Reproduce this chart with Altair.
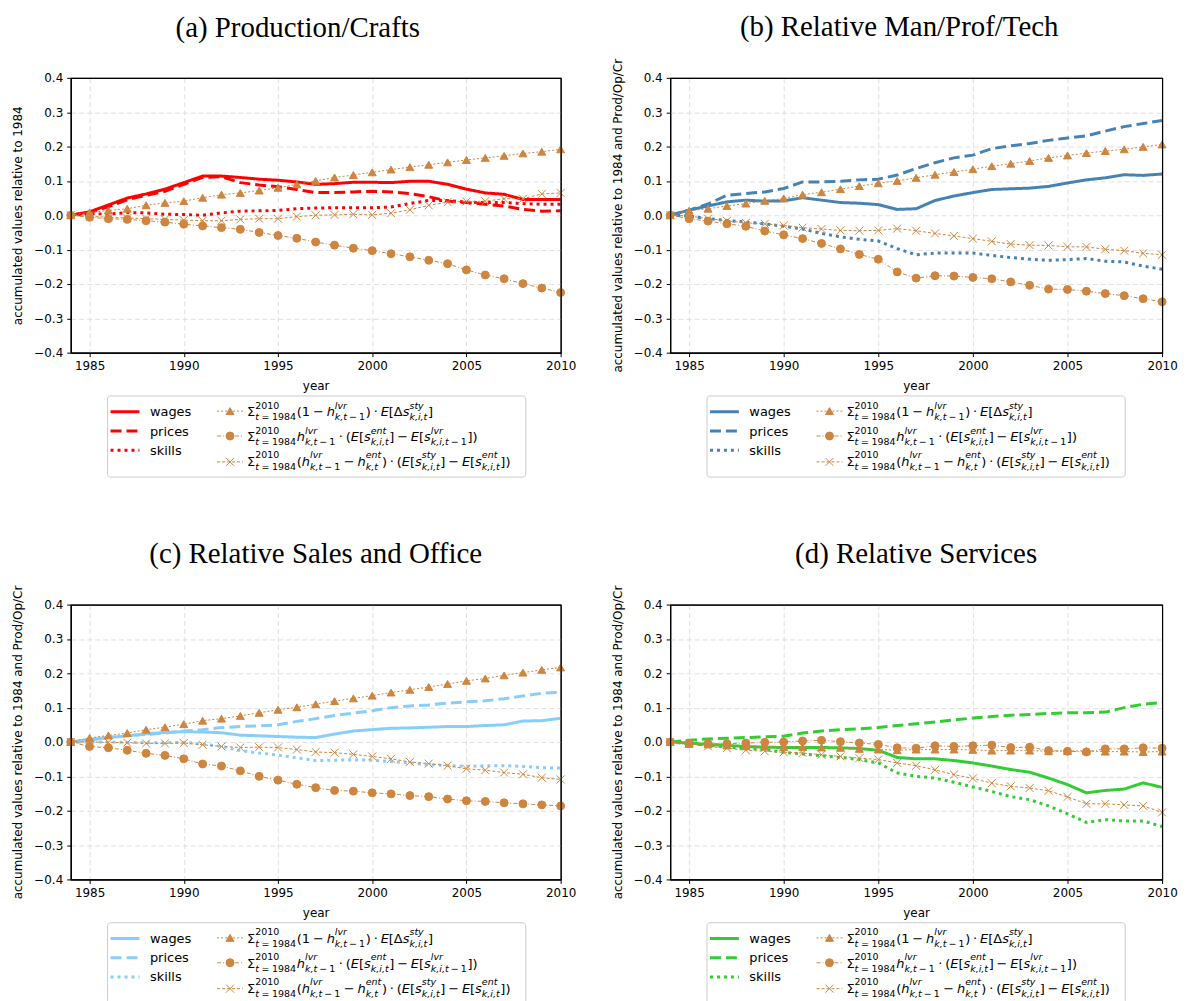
import altair as alt
import pandas as pd

years = list(range(1984, 2011))

# ---------------- panel (a) Production/Crafts ----------------
a_wages = [0, 0.010, 0.030, 0.050, 0.062, 0.076, 0.095, 0.114, 0.114, 0.110, 0.105, 0.102, 0.097, 0.090,
           0.092, 0.096, 0.096, 0.095, 0.099, 0.099, 0.090, 0.076, 0.065, 0.061, 0.046, 0.046, 0.046]
a_prices = [0, 0.008, 0.025, 0.045, 0.058, 0.070, 0.090, 0.110, 0.112, 0.095, 0.088, 0.083, 0.075, 0.066,
            0.066, 0.068, 0.070, 0.068, 0.063, 0.054, 0.041, 0.037, 0.032, 0.027, 0.017, 0.012, 0.013]
a_skills = [0, 0.004, 0.004, 0.007, 0.007, 0.003, 0.002, 0.000, 0.007, 0.012, 0.013, 0.014, 0.019, 0.021,
            0.022, 0.022, 0.022, 0.024, 0.034, 0.043, 0.043, 0.038, 0.037, 0.037, 0.034, 0.032, 0.032]
a_tri = [0, 0.008, 0.014, 0.019, 0.029, 0.036, 0.041, 0.051, 0.060, 0.065, 0.072, 0.080, 0.090, 0.100,
         0.110, 0.117, 0.125, 0.133, 0.140, 0.147, 0.154, 0.161, 0.167, 0.173, 0.180, 0.185, 0.192]
a_circ = [0, -0.006, -0.010, -0.012, -0.016, -0.020, -0.026, -0.031, -0.036, -0.041, -0.050, -0.059, -0.067,
          -0.078, -0.087, -0.096, -0.103, -0.112, -0.121, -0.131, -0.141, -0.159, -0.174, -0.185, -0.199,
          -0.212, -0.225]
a_x = [0, -0.003, -0.006, -0.008, -0.010, -0.012, -0.014, -0.016, -0.016, -0.012, -0.010, -0.010, -0.004,
       0.000, 0.001, 0.003, 0.001, 0.006, 0.016, 0.029, 0.038, 0.040, 0.041, 0.048, 0.048, 0.062, 0.065]

# ---------------- panel (b) Relative Man/Prof/Tech ----------------
b_wages = [0, 0.015, 0.027, 0.039, 0.044, 0.041, 0.042, 0.051, 0.044, 0.037, 0.035, 0.031, 0.017, 0.019,
           0.043, 0.056, 0.066, 0.075, 0.077, 0.079, 0.084, 0.094, 0.103, 0.109, 0.118, 0.116, 0.120]
b_prices = [0, 0.015, 0.033, 0.058, 0.063, 0.068, 0.078, 0.097, 0.097, 0.099, 0.103, 0.105, 0.117, 0.136,
            0.153, 0.167, 0.175, 0.194, 0.202, 0.209, 0.218, 0.225, 0.231, 0.245, 0.258, 0.267, 0.276]
b_skills = [0, -0.002, -0.010, -0.015, -0.020, -0.025, -0.032, -0.040, -0.053, -0.063, -0.070, -0.075,
            -0.097, -0.115, -0.110, -0.110, -0.110, -0.117, -0.123, -0.128, -0.131, -0.129, -0.126, -0.134,
            -0.136, -0.148, -0.157]
b_tri = [0, 0.013, 0.019, 0.027, 0.034, 0.042, 0.049, 0.060, 0.067, 0.076, 0.085, 0.093, 0.100, 0.109,
         0.118, 0.126, 0.134, 0.143, 0.150, 0.158, 0.167, 0.174, 0.181, 0.187, 0.192, 0.199, 0.206]
b_circ = [0, -0.010, -0.017, -0.025, -0.032, -0.046, -0.057, -0.068, -0.082, -0.098, -0.114, -0.128, -0.165,
          -0.183, -0.176, -0.177, -0.181, -0.185, -0.194, -0.204, -0.215, -0.216, -0.221, -0.228, -0.234,
          -0.243, -0.252]
b_x = [0, -0.002, -0.010, -0.016, -0.022, -0.025, -0.030, -0.036, -0.040, -0.044, -0.045, -0.044, -0.039,
       -0.045, -0.053, -0.060, -0.068, -0.076, -0.084, -0.087, -0.088, -0.092, -0.092, -0.099, -0.103,
       -0.111, -0.115]

# ---------------- panel (c) Relative Sales and Office ----------------
c_wages = [0, 0.007, 0.013, 0.018, 0.024, 0.028, 0.030, 0.029, 0.027, 0.020, 0.018, 0.016, 0.014, 0.013,
           0.023, 0.032, 0.036, 0.040, 0.041, 0.043, 0.045, 0.045, 0.048, 0.050, 0.061, 0.062, 0.069]
c_prices = [0, 0.006, 0.013, 0.018, 0.022, 0.026, 0.032, 0.036, 0.042, 0.045, 0.047, 0.050, 0.060, 0.068,
            0.077, 0.084, 0.091, 0.100, 0.105, 0.108, 0.113, 0.117, 0.120, 0.126, 0.134, 0.142, 0.145]
c_skills = [0, 0.000, 0.000, -0.001, -0.002, -0.002, -0.001, -0.006, -0.013, -0.025, -0.032, -0.038, -0.046,
            -0.054, -0.053, -0.052, -0.053, -0.057, -0.061, -0.066, -0.068, -0.071, -0.069, -0.069, -0.071,
            -0.075, -0.076]
c_tri = [0, 0.012, 0.019, 0.026, 0.036, 0.043, 0.052, 0.062, 0.068, 0.076, 0.085, 0.094, 0.101, 0.110,
         0.119, 0.127, 0.135, 0.144, 0.152, 0.160, 0.169, 0.178, 0.185, 0.194, 0.202, 0.210, 0.217]
c_circ = [0, -0.013, -0.017, -0.024, -0.033, -0.039, -0.049, -0.064, -0.070, -0.084, -0.100, -0.111, -0.123,
          -0.133, -0.141, -0.143, -0.148, -0.151, -0.156, -0.159, -0.166, -0.171, -0.173, -0.177, -0.180,
          -0.183, -0.186]
c_x = [0, 0.000, -0.001, -0.002, -0.004, -0.004, -0.003, -0.008, -0.013, -0.016, -0.015, -0.016, -0.022,
       -0.029, -0.031, -0.036, -0.042, -0.049, -0.058, -0.063, -0.069, -0.078, -0.082, -0.089, -0.094,
       -0.104, -0.109]

# ---------------- panel (d) Relative Services ----------------
d_wages = [0, -0.003, -0.007, -0.010, -0.013, -0.015, -0.016, -0.016, -0.016, -0.017, -0.019, -0.024, -0.045,
           -0.049, -0.049, -0.054, -0.061, -0.070, -0.080, -0.088, -0.105, -0.124, -0.148, -0.141, -0.137,
           -0.119, -0.132]
d_prices = [0, 0.005, 0.009, 0.011, 0.013, 0.015, 0.017, 0.026, 0.032, 0.036, 0.038, 0.042, 0.048, 0.053,
            0.058, 0.064, 0.070, 0.074, 0.078, 0.080, 0.083, 0.085, 0.085, 0.087, 0.100, 0.110, 0.115]
d_skills = [0, -0.005, -0.009, -0.015, -0.018, -0.022, -0.030, -0.035, -0.040, -0.045, -0.051, -0.061, -0.090,
            -0.100, -0.105, -0.117, -0.131, -0.144, -0.159, -0.168, -0.186, -0.209, -0.234, -0.226, -0.230,
            -0.230, -0.246]
d_tri = [0, -0.005, -0.007, -0.010, -0.012, -0.013, -0.015, -0.015, -0.016, -0.017, -0.020, -0.022, -0.024,
         -0.022, -0.022, -0.022, -0.023, -0.025, -0.025, -0.025, -0.027, -0.026, -0.026, -0.028, -0.028,
         -0.029, -0.028]
d_circ = [0, -0.005, -0.005, -0.005, -0.003, -0.001, 0.000, 0.003, 0.005, 0.001, -0.003, -0.007, -0.017,
          -0.018, -0.011, -0.013, -0.011, -0.009, -0.016, -0.015, -0.025, -0.027, -0.029, -0.020, -0.020,
          -0.017, -0.018]
d_x = [0, -0.005, -0.013, -0.018, -0.024, -0.027, -0.030, -0.032, -0.037, -0.042, -0.047, -0.051, -0.061,
       -0.069, -0.081, -0.095, -0.106, -0.120, -0.129, -0.134, -0.142, -0.160, -0.180, -0.180, -0.183,
       -0.186, -0.205]

x_ticks = [1985, 1990, 1995, 2000, 2005, 2010]
y_ticks = [round(-0.4 + 0.1 * i, 1) for i in range(9)]
main_names = ["wages", "prices", "skills"]
term_names = ["t1", "t2", "t3"]
PERU = "#cd853f"
FONT = "DejaVu Sans"

dash_scale = alt.Scale(domain=main_names + term_names,
                       range=[[1, 0], [11, 5], [3, 4], [2, 2], [4, 2, 1, 2], [3, 2]])
shape_scale = alt.Scale(domain=term_names,
                        range=["triangle-up", "circle", "M-1,-1L1,1M-1,1L1,-1"])

# ---------- math-ish legend text layout (DejaVu Sans advance widths, em) ----------
CW = {' ': 0.318, '(': 0.390, ')': 0.390, '[': 0.390, ']': 0.390, ',': 0.318, '·': 0.318,
      '=': 0.838, '−': 0.838, 'Σ': 0.632, 'Δ': 0.684, 'E': 0.632, 'h': 0.634, 'k': 0.579,
      't': 0.392, 'i': 0.278, 's': 0.521, 'l': 0.278, 'v': 0.592, 'r': 0.411, 'e': 0.615,
      'n': 0.634, 'y': 0.592}
for dgt in "0123456789":
    CW[dgt] = 0.636


def tw(s, size):
    return sum(CW.get(c, 0.6) for c in s) * size


def layout(tokens, x0, y0, fs=13.0, ss=9.5):
    rows = []

    def run(parts, x, y, size):
        for p in parts:
            text, ital = p[0], p[1]
            gap = 0.0
            if len(p) > 2:
                gap = (0.22 if p[2] == "op" else 0.28) * size
            x += gap
            rows.append(dict(text=text, x=x, y=y, size=size, italic=ital))
            x += tw(text, size) + gap
        return x

    x = x0
    for tok in tokens:
        if tok[0] == "b":
            x = run(tok[1], x, y0, fs)
        else:
            x1 = run(tok[1], x, y0 - 0.6 * fs, ss)
            x2 = run(tok[2], x, y0 + 0.3 * fs, ss)
            x = max(x1, x2) + 0.05 * fs
    return rows


SIG = [("b", [("Σ", False)]), ("s", [("2010", False)], [("t", True), ("=", False, "rel"), ("1984", False)])]
H_LVR = ("s", [("lvr", True)], [("k,t", True), ("−", False, "op"), ("1", False)])
S_KIT = [("k,i,t", True)]
F1 = SIG + [("b", [("(", False), ("1", False), ("−", False, "op"), ("h", True)]), H_LVR,
            ("b", [(")", False), ("·", False, "op"), ("E", True), ("[", False), ("Δ", False), ("s", True)]),
            ("s", [("sty", True)], S_KIT), ("b", [("]", False)])]
F2 = SIG + [("b", [("h", True)]), H_LVR,
            ("b", [("·", False, "op"), ("(", False), ("E", True), ("[", False), ("s", True)]),
            ("s", [("ent", True)], S_KIT),
            ("b", [("]", False), ("−", False, "op"), ("E", True), ("[", False), ("s", True)]),
            ("s", [("lvr", True)], [("k,i,t", True), ("−", False, "op"), ("1", False)]),
            ("b", [("]", False), (")", False)])]
F3 = SIG + [("b", [("(", False), ("h", True)]), H_LVR,
            ("b", [("−", False, "op"), ("h", True)]), ("s", [("ent", True)], [("k,t", True)]),
            ("b", [(")", False), ("·", False, "op"), ("(", False), ("E", True), ("[", False), ("s", True)]),
            ("s", [("sty", True)], S_KIT),
            ("b", [("]", False), ("−", False, "op"), ("E", True), ("[", False), ("s", True)]),
            ("s", [("ent", True)], S_KIT), ("b", [("]", False), (")", False)])]


def make_legend(color, w):
    one = pd.DataFrame({"k": [0]})
    box = alt.Chart(one).mark_rect(fill="white", stroke="#cccccc", strokeWidth=1, cornerRadius=3).encode(
        x=alt.value(37), x2=alt.value(457), y=alt.value(1.5), y2=alt.value(83))
    left = pd.DataFrame({"series": main_names, "y": [17.3, 36.7, 56.0]})
    left["yt"] = left["y"] + 4.5
    lrule = alt.Chart(left).mark_rule(color=color, strokeWidth=3).encode(
        x=alt.value(40), x2=alt.value(69), y=alt.Y("y:Q", scale=None),
        strokeDash=alt.StrokeDash("series:N", scale=dash_scale, legend=None))
    ltext = alt.Chart(left).mark_text(align="left", baseline="alphabetic", font=FONT, fontSize=13,
                                      color="black").encode(
        x=alt.value(79.5), y=alt.Y("yt:Q", scale=None), text="series:N")
    right = pd.DataFrame({"series": term_names, "y": [16.7, 41.7, 67.7]})
    rrule = alt.Chart(right).mark_rule(color=PERU, strokeWidth=1).encode(
        x=alt.value(147), x2=alt.value(173), y=alt.Y("y:Q", scale=None),
        strokeDash=alt.StrokeDash("series:N", scale=dash_scale, legend=None))
    rpt = alt.Chart(right).mark_point(filled=True, color=PERU, stroke=PERU, strokeWidth=1, size=64,
                                      opacity=1).encode(
        x=alt.value(160), y=alt.Y("y:Q", scale=None),
        shape=alt.Shape("series:N", scale=shape_scale, legend=None))
    rows = []
    for f, yb in zip([F1, F2, F3], [22.0, 47.0, 72.0]):
        rows += layout(f, 177.0, yb)
    rt = pd.DataFrame(rows)
    txt_layers = []
    for ital in [False, True]:
        txt_layers.append(
            alt.Chart(rt[rt["italic"] == ital]).mark_text(
                align="left", baseline="alphabetic", font=FONT, color="black",
                fontStyle="italic" if ital else "normal").encode(
                x=alt.X("x:Q", scale=None), y=alt.Y("y:Q", scale=None),
                size=alt.Size("size:Q", scale=None, legend=None), text="text:N"))
    return alt.layer(box, lrule, ltext, rrule, rpt, *txt_layers).properties(
        width=w, height=86, view=alt.ViewBackground(stroke="transparent"))


def make_panel(title, color, w, mains, terms, ytitle, t_offset, t_dx):
    mrows, trows = [], []
    for name, vals in zip(main_names, mains):
        for yr, v in zip(years, vals):
            mrows.append({"year": yr, "value": v, "series": name})
    for name, vals in zip(term_names, terms):
        for yr, v in zip(years, vals):
            trows.append({"year": yr, "value": v, "series": name})
    mdf = pd.DataFrame(mrows)
    tdf = pd.DataFrame(trows)
    x = alt.X("year:Q", scale=alt.Scale(domain=[1984, 2010], nice=False, zero=False),
              axis=alt.Axis(values=x_ticks, format="d", title="year",
                            gridOpacity={"condition": {"test": "datum.value >= 2010", "value": 0},
                                         "value": 1}))
    y = alt.Y("value:Q", scale=alt.Scale(domain=[-0.4, 0.4], nice=False, zero=False),
              axis=alt.Axis(values=y_ticks, format=".1f", title=ytitle,
                            gridOpacity={"condition": {"test": "abs(datum.value) > 0.35", "value": 0},
                                         "value": 1}))
    lines = alt.Chart(mdf).mark_line(color=color, strokeWidth=3).encode(
        x=x, y=y, strokeDash=alt.StrokeDash("series:N", scale=dash_scale, legend=None))
    tlines = alt.Chart(tdf).mark_line(color=PERU, strokeWidth=1).encode(
        x=x, y=y, strokeDash=alt.StrokeDash("series:N", scale=dash_scale, legend=None))
    tpts = alt.Chart(tdf).mark_point(filled=True, color=PERU, stroke=PERU, strokeWidth=1, size=64,
                                     opacity=1).encode(
        x=x, y=y, shape=alt.Shape("series:N", scale=shape_scale, legend=None))
    frame = alt.Chart(pd.DataFrame({"k": [0]})).mark_rect(
        fillOpacity=0, stroke="black", strokeWidth=1.2).encode(
        x=alt.value(0.5), x2=alt.value(w + 0.5), y=alt.value(0.5), y2=alt.value(276.5))
    plot = alt.layer(lines, tlines, tpts, frame).properties(
        width=w, height=276,
        title=alt.TitleParams(title, font="Liberation Serif", fontSize=29, fontWeight="normal",
                              anchor="middle", frame="group", offset=t_offset, dx=t_dx,
                              color="black"))
    return alt.vconcat(plot, make_legend(color, w), spacing=1)


yt1 = "accumulated values relative to 1984"
yt2 = "accumulated values relative to 1984 and Prod/Op/Cr"

pa = make_panel("(a) Production/Crafts", "#ff0000", 492, [a_wages, a_prices, a_skills],
                [a_tri, a_circ, a_x], yt1, 29, -18)
pb = make_panel("(b) Relative Man/Prof/Tech", "#4682b4", 494, [b_wages, b_prices, b_skills],
                [b_tri, b_circ, b_x], yt2, 16, -17)
pc = make_panel("(c) Relative Sales and Office", "#87cefa", 492, [c_wages, c_prices, c_skills],
                [c_tri, c_circ, c_x], yt2, 16, 0)
pd_ = make_panel("(d) Relative Services", "#32cd32", 494, [d_wages, d_prices, d_skills],
                 [d_tri, d_circ, d_x], yt2, 16, 0)

chart = alt.vconcat(
    alt.hconcat(pa, pb, spacing=34),
    alt.hconcat(pc, pd_, spacing=34),
    spacing=58,
).properties(
    padding={"left": 3, "top": 2, "right": 0, "bottom": 0}
).configure_view(
    stroke="black", strokeWidth=1
).configure_axis(
    labelFont=FONT, titleFont=FONT, labelFontSize=12, titleFontSize=12, titleFontWeight="normal",
    labelColor="black", titleColor="black", domainColor="black", tickColor="black",
    tickSize=4, labelPadding=4, grid=True, gridColor="#e0e0e0", gridDash=[5, 3], gridWidth=1,
    labelFlush=False
).configure_axisY(
    titlePadding=9
).configure_axisX(
    titlePadding=9
)

chart.save("out.html", embed_options={"renderer": "svg", "actions": False})
